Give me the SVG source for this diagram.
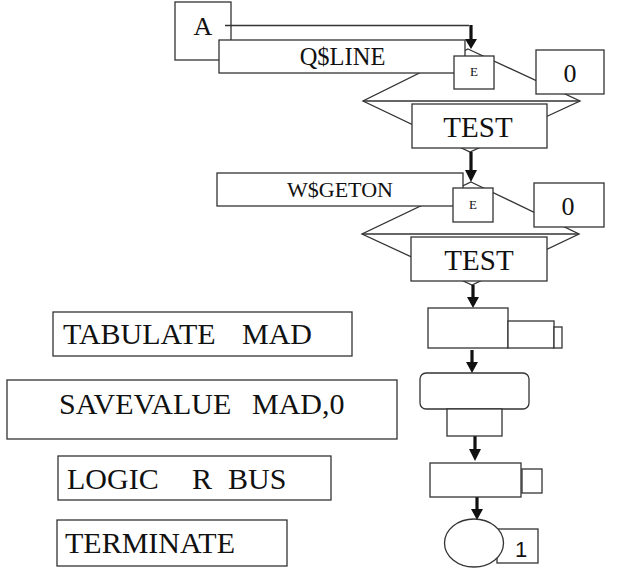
<svg xmlns="http://www.w3.org/2000/svg" width="631" height="568" viewBox="0 0 631 568">
<style>
.b{fill:#fff;stroke:#333;stroke-width:1.3}
.l{fill:none;stroke:#333;stroke-width:1.3}
.s{stroke:#111;stroke-width:3.2;fill:none}
.h{fill:#111}
text{font-family:"Liberation Serif","Times New Roman",serif;fill:#111}
.c{text-anchor:middle}
.sans{font-family:"Liberation Sans",Arial,sans-serif}
</style>
<rect width="631" height="568" fill="#fff"/>
<g id="diamond1">
<polygon class="b" points="468,49 580,101 470,152 363,101"/>
<line class="l" x1="363" y1="101" x2="580" y2="101"/>
</g>
<g id="diamond2">
<polygon class="b" points="471,182 579,234 472,285 362,234"/>
<line class="l" x1="362" y1="234" x2="579" y2="234"/>
</g>
<g id="nodeA">
<rect class="b" x="175" y="2" width="56" height="58"/>
<text class="c" x="203" y="35" font-size="26">A</text>
</g>
<g id="connectors">
<polyline class="l" points="225,25.5 469,25.5"/>
<line class="s" x1="471" y1="25" x2="471" y2="40"/>
<polygon class="h" points="465,39 477,39 471,49"/>
<line class="s" x1="471" y1="152" x2="471" y2="171"/>
<polygon class="h" points="465,170 477,170 471,182"/>
<line class="s" x1="473" y1="285" x2="473" y2="298"/>
<polygon class="h" points="467,297 479,297 473,308"/>
<line class="s" x1="472" y1="350" x2="472" y2="363"/>
<polygon class="h" points="466,362 478,362 472,373"/>
<line class="s" x1="475" y1="436" x2="475" y2="450"/>
<polygon class="h" points="469,449 481,449 475,461"/>
<line class="s" x1="477" y1="497" x2="477" y2="510"/>
<polygon class="h" points="471,509 483,509 477,520"/>
</g>
<g id="qline">
<rect class="b" x="219" y="40" width="246" height="33"/>
<text class="c" x="342.5" y="65" font-size="24.5">Q$LINE</text>
</g>
<g id="e1">
<rect class="b" x="454" y="56" width="40" height="33"/>
<text class="c" x="474" y="76" font-size="13">E</text>
</g>
<g id="zero1">
<rect class="b" x="536" y="50" width="68" height="44"/>
<text class="c" x="570" y="82" font-size="26">0</text>
</g>
<g id="test1">
<rect class="b" x="412" y="104" width="135" height="44"/>
<text class="c" x="478" y="137" font-size="29">TEST</text>
</g>
<g id="wgeton">
<rect class="b" x="217" y="173" width="246" height="33"/>
<text class="c" x="340" y="197" font-size="22">W$GETON</text>
</g>
<g id="e2">
<rect class="b" x="453" y="188" width="40" height="34"/>
<text class="c" x="473" y="209" font-size="13">E</text>
</g>
<g id="zero2">
<rect class="b" x="534" y="183" width="70" height="44"/>
<text class="c" x="568" y="215" font-size="26">0</text>
</g>
<g id="test2">
<rect class="b" x="411" y="237" width="136" height="44"/>
<text class="c" x="479" y="270" font-size="29">TEST</text>
</g>
<g id="tabulate">
<rect class="b" x="428" y="308" width="80" height="40"/>
<rect class="b" x="508" y="321" width="46" height="27"/>
<rect class="b" x="554" y="327" width="8" height="21"/>
</g>
<g id="savevalue">
<rect class="b" x="420" y="373" width="109" height="36" rx="6"/>
<rect class="b" x="447" y="409" width="55" height="27"/>
</g>
<g id="logic">
<rect class="b" x="430" y="463" width="91" height="34"/>
<rect class="b" x="522" y="469" width="20" height="24"/>
</g>
<g id="terminate">
<rect class="b" x="497" y="529" width="41" height="34"/>
<text class="c sans" x="521" y="557" font-size="22">1</text>
<ellipse class="b" cx="474" cy="543" rx="29.5" ry="24"/>
</g>
<g id="label-tabulate">
<rect class="b" x="53" y="312" width="299" height="44"/>
<text x="63" y="344" font-size="30">TABULATE<tspan x="242">MAD</tspan></text>
</g>
<g id="label-savevalue">
<rect class="b" x="7" y="380" width="390" height="59"/>
<text x="59" y="414" font-size="30">SAVEVALUE<tspan x="252">MAD,0</tspan></text>
</g>
<g id="label-logic">
<rect class="b" x="58" y="456" width="273" height="44"/>
<text x="67" y="489" font-size="30">LOGIC<tspan x="192">R</tspan><tspan x="228">BUS</tspan></text>
</g>
<g id="label-terminate">
<rect class="b" x="57" y="520" width="230" height="46"/>
<text x="65" y="553" font-size="30">TERMINATE</text>
</g>
</svg>
